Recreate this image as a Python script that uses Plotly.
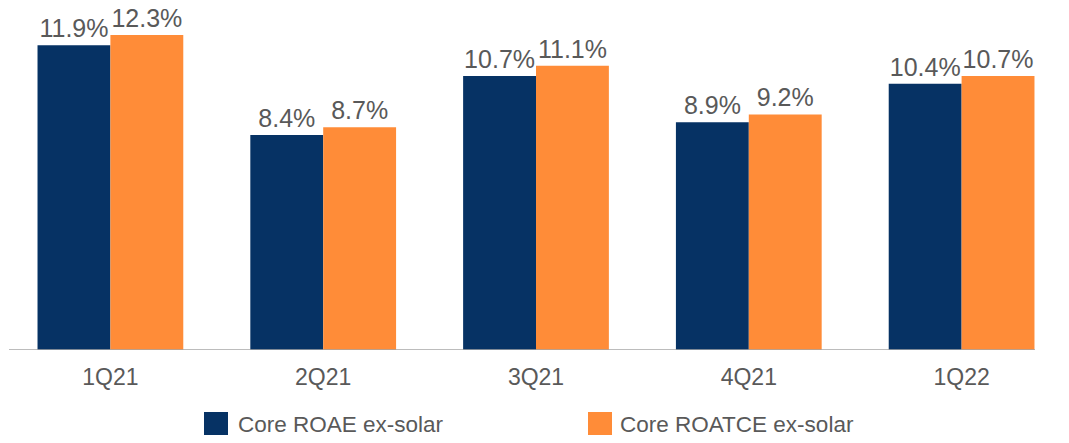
import plotly.graph_objects as go

categories = ["1Q21", "2Q21", "3Q21", "4Q21", "1Q22"]
roae = [11.9, 8.4, 10.7, 8.9, 10.4]
roatce = [12.3, 8.7, 11.1, 9.2, 10.7]
series_names = ["Core ROAE ex-solar", "Core ROATCE ex-solar"]

NAVY = "#063264"
ORANGE = "#FF8C38"
GRAY_TXT = "#595959"
FONT = "Liberation Sans, Arial, sans-serif"

W, H = 1069, 443
ML, MR, MT, MB = 4, 1, 0, 93
PW = W - ML - MR
PH = H - MT - MB

def px_x(px):
    return (px - ML) / PW

def px_y(py):
    return (PH + MT - py) / PH

fig = go.Figure()
for name, vals, col in [(series_names[0], roae, NAVY), (series_names[1], roatce, ORANGE)]:
    fig.add_trace(go.Bar(
        x=categories, y=vals, name=name, marker_color=col, marker_line_width=0,
        text=[f"{v:.1f}%" for v in vals], textposition="outside", constraintext="none",
        textfont=dict(family=FONT, size=25, color=GRAY_TXT),
        cliponaxis=False, showlegend=False, hoverinfo="skip",
    ))

shapes = [
    dict(type="line", xref="paper", yref="y", x0=px_x(9), x1=px_x(1035), y0=0, y1=0,
         line=dict(color="#A6A6A6", width=1.5)),
]
annotations = []
legend_items = [(204, 236, NAVY, series_names[0]), (588, 618, ORANGE, series_names[1])]
for sx, tx, col, name in legend_items:
    shapes.append(dict(type="rect", xref="paper", yref="paper",
                       x0=px_x(sx), x1=px_x(sx + 24), y0=px_y(435), y1=px_y(412),
                       fillcolor=col, line=dict(width=0)))
    annotations.append(dict(xref="paper", yref="paper", x=px_x(tx), y=px_y(424),
                            xanchor="left", yanchor="middle", showarrow=False, text=name,
                            font=dict(family=FONT, size=22.5, color=GRAY_TXT)))

fig.update_layout(
    width=W, height=H,
    margin=dict(l=ML, r=MR, t=MT, b=MB),
    paper_bgcolor="white", plot_bgcolor="white",
    barmode="group", bargap=0.315, bargroupgap=0,
    shapes=shapes, annotations=annotations,
    showlegend=False,
    xaxis=dict(showline=False, showgrid=False, zeroline=False, ticks="",
               ticklabelstandoff=11,
               tickfont=dict(family=FONT, size=23, color=GRAY_TXT)),
    yaxis=dict(range=[0, 13.67], visible=False, showgrid=False, zeroline=False),
)

fig.write_html("out.html", config={"displayModeBar": False},
               post_script="document.body.style.margin='0';document.body.style.overflow='hidden';")
